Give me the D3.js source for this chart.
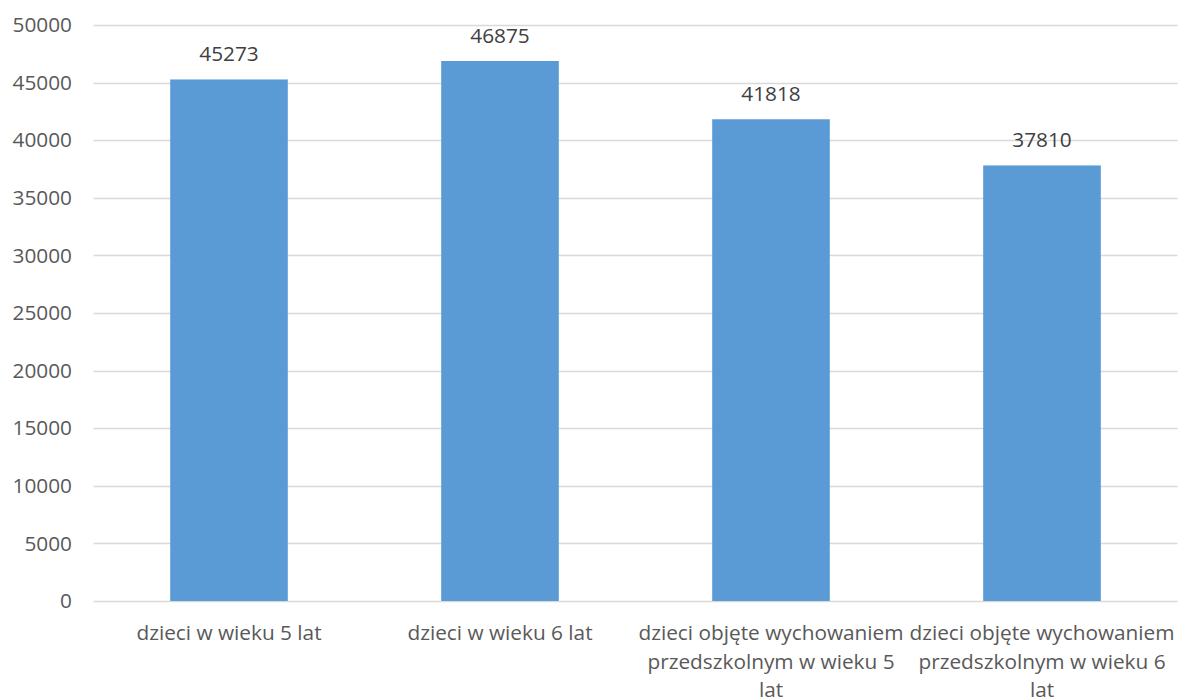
<!DOCTYPE html>
<html>
<head>
<meta charset="utf-8">
<script src="https://cdn.jsdelivr.net/npm/d3@7"></script>
<style>
  html, body { margin: 0; padding: 0; background: #ffffff; }
  svg { display: block; }
  text { font-family: "Open Sans", "DejaVu Sans", sans-serif; }
</style>
</head>
<body>
<svg id="chart" width="1181" height="697"></svg>
<script>
// Category labels, already split into the lines they wrap to
const categories = [
  ["dzieci w wieku 5 lat"],
  ["dzieci w wieku 6 lat"],
  ["dzieci objęte wychowaniem", "przedszkolnym w wieku 5", "lat"],
  ["dzieci objęte wychowaniem", "przedszkolnym w wieku 6", "lat"]
];
const values = [45273, 46875, 41818, 37810];
const yTicks = [0, 5000, 10000, 15000, 20000, 25000, 30000, 35000, 40000, 45000, 50000];

const W = 1181, H = 697;
const plot = { left: 93.5, right: 1177.5, top: 25, bottom: 601 };
const fontSize = 20.8;

const svg = d3.select("#chart");

const x = d3.scaleBand()
  .domain(d3.range(categories.length))
  .range([plot.left, plot.right])
  .paddingInner(0.566)
  .paddingOuter(0.283);

const y = d3.scaleLinear()
  .domain([0, 50000])
  .range([plot.bottom, plot.top]);

// horizontal gridlines
svg.append("g")
  .selectAll("line")
  .data(yTicks)
  .join("line")
  .attr("x1", plot.left)
  .attr("x2", plot.right)
  .attr("y1", d => Math.round(y(d)) + 0.5)
  .attr("y2", d => Math.round(y(d)) + 0.5)
  .attr("stroke", "#d9d9d9")
  .attr("stroke-width", 1.3);

// y axis tick labels
const yAxis = d3.axisLeft(y)
  .tickValues(yTicks)
  .tickFormat(d3.format("d"))
  .tickSize(0)
  .tickPadding(0);

const yg = svg.append("g")
  .attr("transform", `translate(${72},0)`)
  .call(yAxis);
yg.select(".domain").remove();
yg.selectAll("text")
  .attr("fill", "#595959")
  .style("font-size", fontSize + "px")
  .style("font-family", "'Open Sans', sans-serif");

// bars
svg.append("g")
  .selectAll("rect")
  .data(values)
  .join("rect")
  .attr("x", (d, i) => x(i))
  .attr("width", x.bandwidth())
  .attr("y", d => y(d))
  .attr("height", d => y(0) - y(d))
  .attr("fill", "#5b9bd5");

// value labels above bars
svg.append("g")
  .selectAll("text")
  .data(values)
  .join("text")
  .attr("x", (d, i) => x(i) + x.bandwidth() / 2)
  .attr("y", d => y(d) - 18)
  .attr("text-anchor", "middle")
  .attr("fill", "#404040")
  .style("font-size", fontSize + "px")
  .text(d => d);

// category labels
const lineH = 28.5;
const cat = svg.append("g")
  .selectAll("text")
  .data(categories)
  .join("text")
  .attr("text-anchor", "middle")
  .attr("fill", "#595959")
  .style("font-size", fontSize + "px");

cat.each(function (lines, i) {
  const cx = x(i) + x.bandwidth() / 2;
  d3.select(this).selectAll("tspan")
    .data(lines)
    .join("tspan")
    .attr("x", cx)
    .attr("y", (d, j) => 640 + j * lineH)
    .text(d => d);
});
</script>
</body>
</html>
